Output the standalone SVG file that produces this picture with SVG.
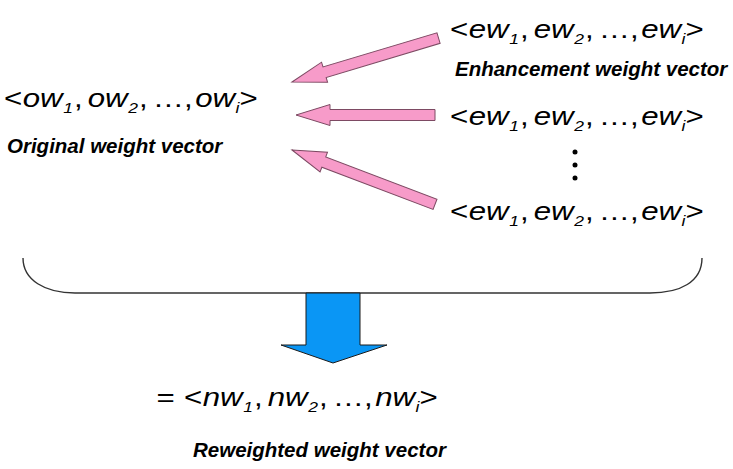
<svg xmlns="http://www.w3.org/2000/svg" width="733" height="469" viewBox="0 0 733 469">
<defs>
<style>
.eq{font-family:"Liberation Sans",Arial,sans-serif;font-size:25px;fill:#000}
.it{font-style:italic}
.sub{font-size:14px;font-style:italic}
.lbl{font-family:"Liberation Sans",Arial,sans-serif;font-size:20.5px;font-weight:bold;font-style:italic;fill:#000}
.pink{fill:#F79BC9;stroke:#7D4A63;stroke-width:1}
.blue{fill:#0A96F5;stroke:#1a1a1a;stroke-width:1}
.brace{fill:none;stroke:#333;stroke-width:1.4}
</style>
<path id="parrow" d="M0,0 L34,-10.5 L34,-5.5 L153,-5.5 L153,5.5 L34,5.5 L34,10.5 Z"/>
</defs>
<rect width="733" height="469" fill="#fff"/>

<g id="original">
<text class="eq" transform="translate(4,107) scale(1.25,1)"><tspan x="0">&lt;</tspan><tspan class="it" x="15">ow</tspan><tspan class="sub" x="47.5" dy="6">1</tspan><tspan x="56" dy="-6">,</tspan><tspan class="it" x="67">ow</tspan><tspan class="sub" x="99.5" dy="6">2</tspan><tspan x="108" dy="-6">,</tspan><tspan x="119">…,</tspan><tspan class="it" x="153">ow</tspan><tspan class="sub" x="185.2" dy="6">i</tspan><tspan x="188.5" dy="-6">&gt;</tspan></text>
<text class="lbl" x="7" y="153">Original weight vector</text>
</g>

<g id="enhancement1">
<text class="eq" transform="translate(450,38) scale(1.25,1)"><tspan x="0">&lt;</tspan><tspan class="it" x="15">ew</tspan><tspan class="sub" x="47.5" dy="6">1</tspan><tspan x="56" dy="-6">,</tspan><tspan class="it" x="67">ew</tspan><tspan class="sub" x="99.5" dy="6">2</tspan><tspan x="108" dy="-6">,</tspan><tspan x="119">…,</tspan><tspan class="it" x="153">ew</tspan><tspan class="sub" x="185.2" dy="6">i</tspan><tspan x="188.5" dy="-6">&gt;</tspan></text>
<text class="lbl" x="455" y="76">Enhancement weight vector</text>
</g>

<g id="enhancement2">
<text class="eq" transform="translate(450,125) scale(1.25,1)"><tspan x="0">&lt;</tspan><tspan class="it" x="15">ew</tspan><tspan class="sub" x="47.5" dy="6">1</tspan><tspan x="56" dy="-6">,</tspan><tspan class="it" x="67">ew</tspan><tspan class="sub" x="99.5" dy="6">2</tspan><tspan x="108" dy="-6">,</tspan><tspan x="119">…,</tspan><tspan class="it" x="153">ew</tspan><tspan class="sub" x="185.2" dy="6">i</tspan><tspan x="188.5" dy="-6">&gt;</tspan></text>
</g>

<g id="vdots">
<circle cx="575" cy="152" r="2.5" fill="#000"/>
<circle cx="575" cy="165" r="2.5" fill="#000"/>
<circle cx="575" cy="178" r="2.5" fill="#000"/>
</g>

<g id="enhancement3">
<text class="eq" transform="translate(450,220) scale(1.25,1)"><tspan x="0">&lt;</tspan><tspan class="it" x="15">ew</tspan><tspan class="sub" x="47.5" dy="6">1</tspan><tspan x="56" dy="-6">,</tspan><tspan class="it" x="67">ew</tspan><tspan class="sub" x="99.5" dy="6">2</tspan><tspan x="108" dy="-6">,</tspan><tspan x="119">…,</tspan><tspan class="it" x="153">ew</tspan><tspan class="sub" x="185.2" dy="6">i</tspan><tspan x="188.5" dy="-6">&gt;</tspan></text>
</g>

<g id="reweighted">
<text class="eq" transform="translate(184,406) scale(1.25,1)"><tspan x="-22">=</tspan><tspan x="0">&lt;</tspan><tspan class="it" x="15">nw</tspan><tspan class="sub" x="47.5" dy="6">1</tspan><tspan x="56" dy="-6">,</tspan><tspan class="it" x="67">nw</tspan><tspan class="sub" x="99.5" dy="6">2</tspan><tspan x="108" dy="-6">,</tspan><tspan x="119">…,</tspan><tspan class="it" x="153">nw</tspan><tspan class="sub" x="185.2" dy="6">i</tspan><tspan x="188.5" dy="-6">&gt;</tspan></text>
<text class="lbl" x="193" y="457">Reweighted weight vector</text>
</g>

<g id="connectors">
<use href="#parrow" class="pink" transform="translate(292,82) rotate(-16.7)"/>
<path class="pink" d="M296,115 L330,104.5 L330,109.5 L435,109.5 L435,120.5 L330,120.5 L330,125.5 Z"/>
<use href="#parrow" class="pink" transform="translate(292,150) rotate(20.8)"/>
<path class="brace" d="M23,258 C23,280 45,293 75,293 L650,293 C680,293 702,282 702,258"/>
<path class="blue" d="M306,293 L360,293 L360,345 L387,345 L333,363 L281,345 L306,345 Z"/>
</g>
</svg>
